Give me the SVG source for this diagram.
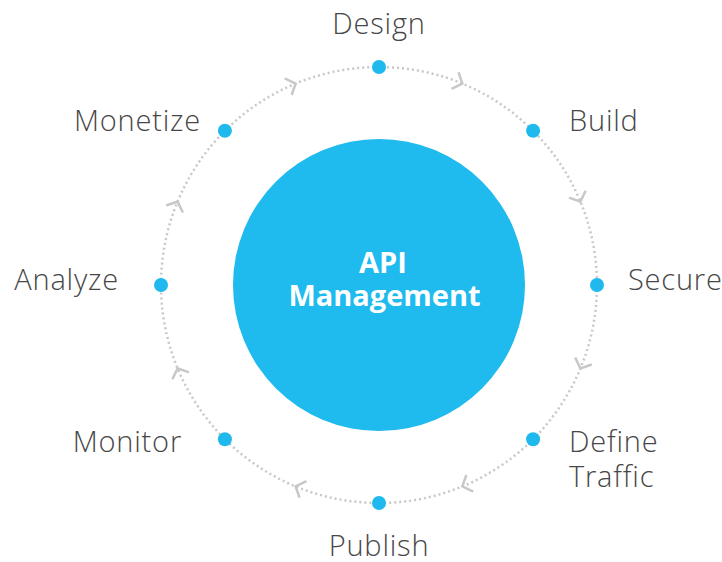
<svg xmlns="http://www.w3.org/2000/svg" width="722" height="562" viewBox="0 0 722 562">
<style>
.lbl{font-family:"Open Sans","Liberation Sans",sans-serif;font-weight:300;font-size:29px;letter-spacing:0.8px;fill:#474747}
.ctr{font-family:"Open Sans","Liberation Sans",sans-serif;font-weight:700;font-size:29px;fill:#fff}
.dot{fill:#1fb9ee}
.ring{fill:none;stroke:#c8c8c8;stroke-width:2.5;stroke-dasharray:2 3}
.chev{fill:none;stroke:#c8c8c8;stroke-width:2.5}
</style>
<defs>
<path id="chev" class="chev" d="M-8,-9 L0,0 L-8,9"/>
</defs>
<rect width="722" height="562" fill="#fff"/>
<g id="connectors">
<circle class="ring" cx="379" cy="285" r="218"/>
<use href="#chev" transform="translate(462.4,83.6) rotate(22.5)"/>
<use href="#chev" transform="translate(580.4,201.6) rotate(67.5)"/>
<use href="#chev" transform="translate(580.4,368.4) rotate(112.5)"/>
<use href="#chev" transform="translate(462.4,486.4) rotate(157.5)"/>
<use href="#chev" transform="translate(295.6,486.4) rotate(202.5)"/>
<use href="#chev" transform="translate(177.6,368.4) rotate(247.5)"/>
<use href="#chev" transform="translate(177.6,201.6) rotate(292.5)"/>
<use href="#chev" transform="translate(295.6,83.6) rotate(337.5)"/>
</g>
<g id="center">
<circle cx="379" cy="285" r="146" fill="#1fbaee"/>
<text class="ctr" x="383" y="273" text-anchor="middle">API</text>
<text class="ctr" x="384.5" y="306" text-anchor="middle">Management</text>
</g>
<g id="design"><circle class="dot" cx="379" cy="67" r="7"/><text class="lbl" x="379" y="34" text-anchor="middle">Design</text></g>
<g id="build"><circle class="dot" cx="533.1" cy="130.8" r="7"/><text class="lbl" x="569" y="131">Build</text></g>
<g id="secure"><circle class="dot" cx="597" cy="285" r="7"/><text class="lbl" x="628" y="290">Secure</text></g>
<g id="define-traffic"><circle class="dot" cx="533.1" cy="439.2" r="7"/><text class="lbl" x="569" y="452">Define</text><text class="lbl" x="569" y="487">Traffic</text></g>
<g id="publish"><circle class="dot" cx="379" cy="503" r="7"/><text class="lbl" x="379" y="556" text-anchor="middle">Publish</text></g>
<g id="monitor"><circle class="dot" cx="224.9" cy="439.2" r="7"/><text class="lbl" x="182" y="452" text-anchor="end">Monitor</text></g>
<g id="analyze"><circle class="dot" cx="161" cy="285" r="7"/><text class="lbl" x="119" y="290" text-anchor="end">Analyze</text></g>
<g id="monetize"><circle class="dot" cx="224.9" cy="130.8" r="7"/><text class="lbl" x="201" y="131" text-anchor="end">Monetize</text></g>
</svg>
